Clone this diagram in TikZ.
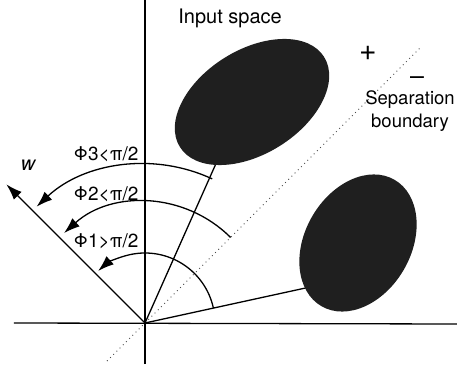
\documentclass[tikz,border=0pt]{standalone}
\usepackage{fontspec}
\setmainfont{TeX Gyre Heros}
\usetikzlibrary{arrows.meta}

\begin{document}
\begin{tikzpicture}[x=1pt, y=1pt,
    axis/.style={line width=1.3pt},
    vec/.style={line width=1.3pt},
    angarc/.style={line width=1.3pt, -{Latex[length=16pt, width=11pt]}},
    blob/.style={fill=black!88},
    lbl/.style={font=\fontsize{20}{24}\selectfont, inner sep=0pt}]
        \useasboundingbox (-145,-41) rectangle (312,323);
        \coordinate (O) at (0,0);

        % Axes
        \draw[axis] (-131,0) -- (312,-1);
        \draw[axis] (0,-41) -- (0,323);

        % Separation boundary
        \draw[line width=1pt, black!70, dash pattern=on 0.9pt off 3.6pt] (-38,-38) -- (276,276);

        % Lines to the two classes
        \coordinate (c1) at (66:200);
        \coordinate (c2) at (12.3:185);
        \draw[vec] (O) -- (c1);
        \draw[vec] (O) -- (c2);

        % Classes
        \fill[blob, rotate around={32:(107,221)}] (107,221) ellipse [x radius=85, y radius=52];
        \fill[blob, rotate around={60:(213,80)}] (213,80) ellipse [x radius=73, y radius=53];

        % Weight vector
        \coordinate (w) at (135:196);
        \draw[vec, -{Latex[length=16pt, width=11pt]}] (O) -- (w);
        \node[lbl, font=\fontsize{20}{24}\selectfont\itshape] (wlabel) at (-117,158) {w};

        % Angles
        \draw[angarc] (65:159) arc (65:133:159);
        \draw[angarc] (45:121) arc (45:132:121);
        \draw[angarc] (12.3:70) arc (12.3:132:70);
        \node[lbl, font=\fontsize{19}{22}\selectfont] (phi3) at (-39,169) {Φ3<π/2};
        \node[lbl, font=\fontsize{19}{22}\selectfont] (phi2) at (-39,129) {Φ2<π/2};
        \node[lbl, font=\fontsize{19}{22}\selectfont] (phi1) at (-39,82) {Φ1>π/2};

        % Text
        \node[lbl] (input) at (85,305) {Input space};
        \node[lbl, font=\fontsize{30}{30}\selectfont] (plus) at (223,270) {+};
        \node[lbl, font=\fontsize{25}{25}\selectfont] (minus) at (272,242) {–};
        \node[lbl, align=center, font=\fontsize{18.5}{22}\selectfont] (sep) at (265,212) {Separation\\[1pt]boundary};
\end{tikzpicture}
\end{document}
